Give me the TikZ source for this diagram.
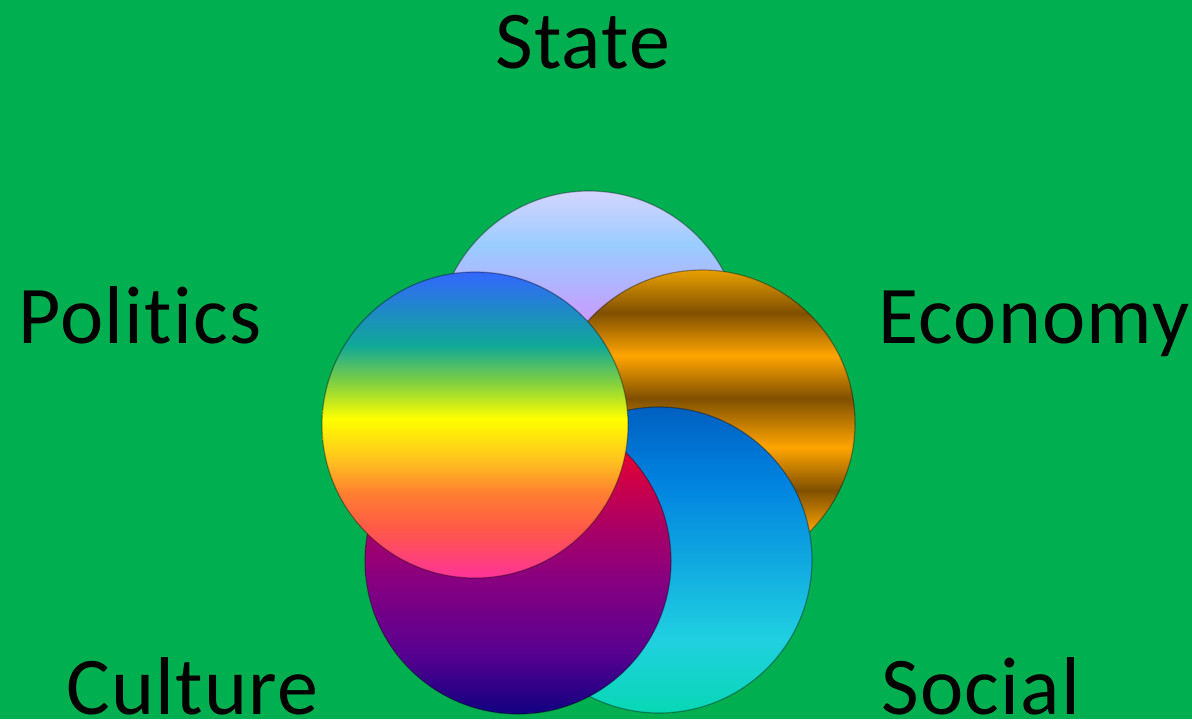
\documentclass[tikz,border=0pt]{standalone}
\usepackage{fontspec}
\newfontfamily\lblfont[Ligatures=NoCommon,LetterSpace=1.5]{Carlito}
\definecolor{bggreen}{HTML}{00B050}
% state
\definecolor{stA}{HTML}{CC99FF}\definecolor{stB}{HTML}{C89CFF}
\definecolor{stC}{HTML}{99CCFF}\definecolor{stD}{HTML}{D4D4FF}
% economy
\definecolor{ecBrown}{HTML}{805000}\definecolor{ecOrange}{HTML}{FFA500}
\definecolor{ecTop}{HTML}{E8A000}
% social
\definecolor{soA}{HTML}{08D8B4}\definecolor{soB}{HTML}{20D0E0}
\definecolor{soC}{HTML}{10A8E0}\definecolor{soD}{HTML}{0082E0}
\definecolor{soE}{HTML}{0060C0}
% culture
\definecolor{cuA}{HTML}{100080}\definecolor{cuB}{HTML}{580090}
\definecolor{cuC}{HTML}{880080}\definecolor{cuD}{HTML}{B00060}
\definecolor{cuE}{HTML}{E00038}\definecolor{cuF}{HTML}{E8002A}
% politics
\definecolor{poA}{HTML}{FF3399}\definecolor{poB}{HTML}{FF5848}
\definecolor{poC}{HTML}{FF8030}\definecolor{poD}{HTML}{FFC020}
\definecolor{poE}{HTML}{FFFF00}\definecolor{poF}{HTML}{80D040}
\definecolor{poG}{HTML}{10A898}\definecolor{poH}{HTML}{2088C8}
\definecolor{poI}{HTML}{3366FF}
\pgfdeclareverticalshading{stateshade}{100bp}{%
	color(0bp)=(stA); color(25bp)=(stA); color(54bp)=(stB);
	color(66bp)=(stC); color(75bp)=(stD); color(100bp)=(stD)}
\pgfdeclareverticalshading{economyshade}{100bp}{%
	color(0bp)=(ecBrown); color(25bp)=(ecBrown); color(32bp)=(ecOrange);
	color(39bp)=(ecBrown); color(46bp)=(ecOrange); color(54bp)=(ecBrown);
	color(61bp)=(ecOrange); color(68bp)=(ecBrown); color(75bp)=(ecTop);
	color(100bp)=(ecTop)}
\pgfdeclareverticalshading{socialshade}{100bp}{%
	color(0bp)=(soA); color(25bp)=(soA); color(37bp)=(soB);
	color(50bp)=(soC); color(63bp)=(soD); color(75bp)=(soE);
	color(100bp)=(soE)}
\pgfdeclareverticalshading{cultureshade}{100bp}{%
	color(0bp)=(cuA); color(25bp)=(cuA); color(35bp)=(cuB);
	color(47bp)=(cuC); color(57bp)=(cuD); color(67bp)=(cuE);
	color(75bp)=(cuF); color(100bp)=(cuF)}
\pgfdeclareverticalshading{politicsshade}{100bp}{%
	color(0bp)=(poA); color(25bp)=(poA); color(33bp)=(poB);
	color(39bp)=(poC); color(44bp)=(poD); color(51bp)=(poE);
	color(57bp)=(poF); color(63bp)=(poG); color(69bp)=(poH);
	color(75bp)=(poI); color(100bp)=(poI)}
\begin{document}
\begin{tikzpicture}[x=0.5pt,y=-0.5pt,
		ring/.style={circle,inner sep=0pt,minimum size=153pt,draw=black,draw opacity=0.35,line width=0.6pt},
		lbl/.style={anchor=base west,inner sep=0pt,text=black,font=\lblfont\fontsize{41}{48}\selectfont}]
	\useasboundingbox (0,0) rectangle (1192,719);
	\fill[bggreen] (0,0) rectangle (1192,719);
	% circles, back to front
	\node[ring,shading=stateshade] (cstate) at (589,344) {};
	\node[ring,shading=economyshade] (ceconomy) at (702,423) {};
	\node[ring,shading=socialshade] (csocial) at (659,560) {};
	\node[ring,shading=cultureshade] (cculture) at (518,561) {};
	\node[ring,shading=politicsshade] (cpolitics) at (475,425) {};
	% labels
	\node[lbl] (state) at (495,68) {State};
	\node[lbl] (politics) at (18,343) {Politics};
	\node[lbl] (economy) at (878,343) {Economy};
	\node[lbl] (culture) at (66,714) {Culture};
	\node[lbl] (social) at (881,714) {Social};
\end{tikzpicture}
\end{document}
